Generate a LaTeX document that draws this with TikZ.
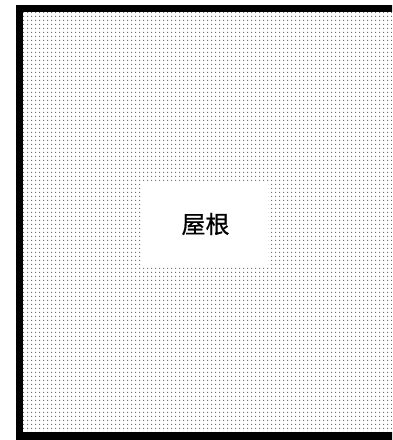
\documentclass[tikz,border=0pt]{standalone}
\usepackage{fontspec}
\newfontfamily\cjk[FakeBold=0.6]{Noto Sans CJK SC}
\usetikzlibrary{patterns.meta}
\tikzset{
  roofframe/.style={line width=7pt, draw=black, pattern={Dots[distance=4pt, radius=0.85pt]}, pattern color=black!60},
  labelbox/.style={fill=white, draw=none, minimum width=125pt, minimum height=84pt, inner sep=0pt, font=\cjk\fontsize{24}{28}\selectfont}
}
\begin{document}
\begin{tikzpicture}[x=1pt,y=1pt]
\useasboundingbox (0,0) rectangle (392,440);
\clip (0,0) rectangle (392,440);
\path[roofframe] (19.5,4) rectangle (400,431.5);
\node[labelbox] (roof) at (205.5,216) {屋根};
\end{tikzpicture}
\end{document}
